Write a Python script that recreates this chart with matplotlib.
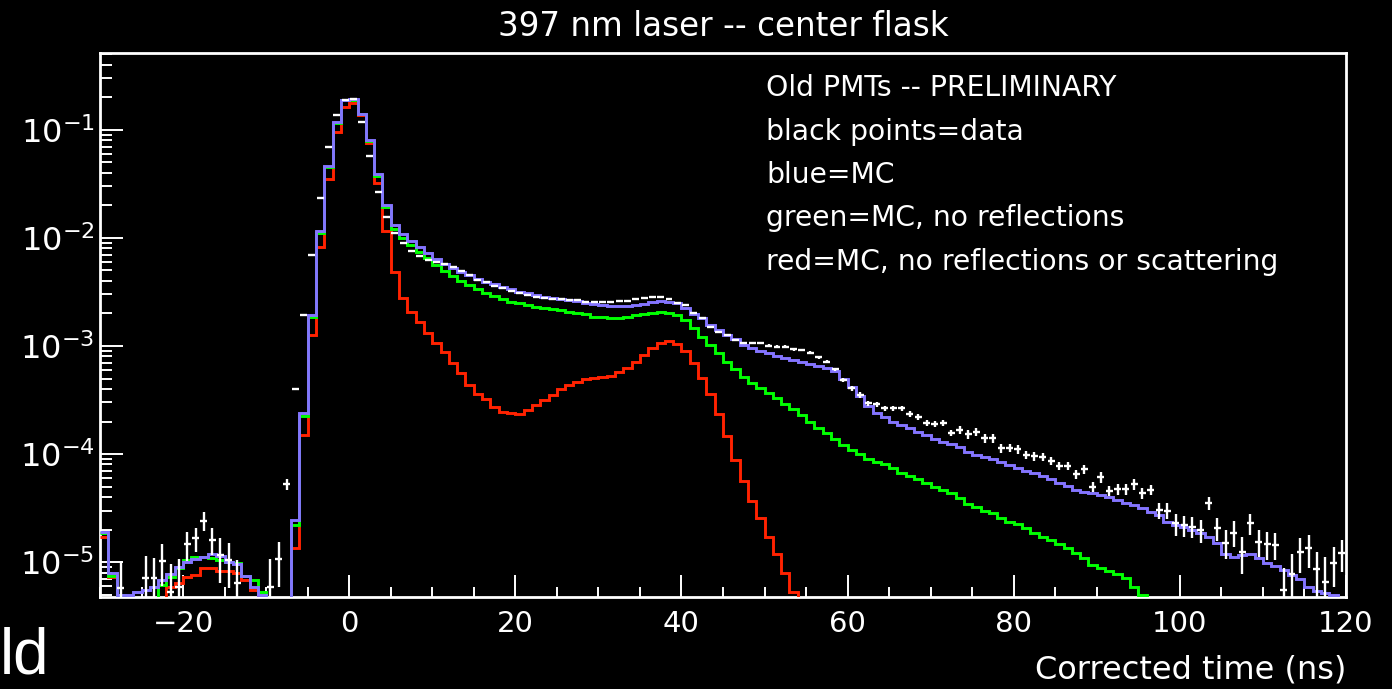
import numpy as np
import matplotlib as mpl
import matplotlib.pyplot as plt
from matplotlib.ticker import MultipleLocator, FixedLocator, FixedFormatter, LogLocator, NullFormatter

mpl.rcParams['font.family'] = 'DejaVu Sans'
mpl.rcParams['mathtext.fontset'] = 'dejavusans'

# 1 ns bins, -30 ns .. 120 ns (150 bins)
bin_edges = np.arange(-30, 121, 1)

# blue = full MC
mc_full = [
    1.91e-5, 7.96e-6, 4.94e-6, 4.94e-6, 5.31e-6, 5.51e-6, 5.83e-6, 6.81e-6, 7.74e-6, 9.04e-6,
    1.01e-5, 1.06e-5, 1.11e-5, 1.18e-5, 1.14e-5, 1.01e-5, 9.57e-6, 7.41e-6, 5.83e-6, 4.94e-6,
    0, 0, 0, 2.45e-5, 2.38e-4, 1.94e-3, 1.17e-2, 4.67e-2, 0.118, 0.190,
    0.192, 0.141, 0.0808, 0.0392, 0.0202, 0.0132, 0.0108, 9.44e-3, 8.20e-3, 7.21e-3,
    6.35e-3, 5.74e-3, 5.31e-3, 4.88e-3, 4.54e-3, 4.15e-3, 3.94e-3, 3.72e-3, 3.50e-3, 3.35e-3,
    3.18e-3, 3.08e-3, 2.97e-3, 2.86e-3, 2.77e-3, 2.70e-3, 2.67e-3, 2.61e-3, 2.52e-3, 2.45e-3,
    2.40e-3, 2.35e-3, 2.35e-3, 2.35e-3, 2.40e-3, 2.45e-3, 2.55e-3, 2.61e-3, 2.58e-3, 2.48e-3,
    2.27e-3, 1.98e-3, 1.80e-3, 1.56e-3, 1.41e-3, 1.26e-3, 1.15e-3, 1.02e-3, 9.52e-4, 8.99e-4,
    8.55e-4, 8.07e-4, 7.69e-4, 7.41e-4, 7.06e-4, 6.81e-4, 6.58e-4, 6.30e-4, 5.90e-4, 4.92e-4,
    4.15e-4, 3.44e-4, 2.78e-4, 2.41e-4, 2.19e-4, 1.99e-4, 1.86e-4, 1.73e-4, 1.61e-4, 1.50e-4,
    1.37e-4, 1.30e-4, 1.24e-4, 1.17e-4, 1.05e-4, 9.79e-5, 9.31e-5, 8.93e-5, 8.49e-5, 7.91e-5,
    7.46e-5, 7.00e-5, 6.71e-5, 6.25e-5, 5.83e-5, 5.42e-5, 5.06e-5, 4.65e-5, 4.48e-5, 4.39e-5,
    4.17e-5, 3.97e-5, 3.75e-5, 3.54e-5, 3.37e-5, 3.14e-5, 2.92e-5, 2.72e-5, 2.36e-5, 2.20e-5,
    2.12e-5, 1.98e-5, 1.87e-5, 1.69e-5, 1.49e-5, 1.19e-5, 1.12e-5, 1.16e-5, 1.19e-5, 1.08e-5,
    9.86e-6, 9.18e-6, 8.43e-6, 7.59e-6, 6.92e-6, 5.90e-6, 5.42e-6, 5.13e-6, 4.94e-6, 0,
]

# green = MC, no reflections
mc_norefl = [
    1.85e-5, 7.41e-6, 4.94e-6, 0, 0, 0, 0, 6.12e-6, 7.21e-6, 8.75e-6,
    1.04e-5, 1.12e-5, 1.12e-5, 1.08e-5, 1.04e-5, 1.01e-5, 9.73e-6, 7.41e-6, 6.81e-6, 5.31e-6,
    0, 0, 0, 2.20e-5, 2.25e-4, 1.85e-3, 1.12e-2, 4.54e-2, 0.116, 0.188,
    0.191, 0.139, 0.0791, 0.0375, 0.0195, 0.0120, 9.93e-3, 8.61e-3, 7.46e-3, 6.49e-3,
    5.62e-3, 4.98e-3, 4.45e-3, 4.03e-3, 3.67e-3, 3.35e-3, 3.12e-3, 2.90e-3, 2.70e-3, 2.57e-3,
    2.48e-3, 2.40e-3, 2.31e-3, 2.23e-3, 2.19e-3, 2.15e-3, 2.08e-3, 2.01e-3, 1.97e-3, 1.87e-3,
    1.85e-3, 1.80e-3, 1.80e-3, 1.85e-3, 1.92e-3, 1.98e-3, 2.04e-3, 2.08e-3, 2.02e-3, 1.92e-3,
    1.74e-3, 1.46e-3, 1.22e-3, 1.02e-3, 8.55e-4, 7.16e-4, 6.08e-4, 5.20e-4, 4.52e-4, 4.06e-4,
    3.65e-4, 3.28e-4, 2.90e-4, 2.59e-4, 2.30e-4, 1.99e-4, 1.73e-4, 1.56e-4, 1.37e-4, 1.21e-4,
    1.09e-4, 1.00e-4, 8.93e-5, 8.49e-5, 8.03e-5, 7.38e-5, 6.71e-5, 6.25e-5, 5.83e-5, 5.36e-5,
    4.92e-5, 4.65e-5, 4.33e-5, 3.95e-5, 3.42e-5, 3.25e-5, 2.99e-5, 2.82e-5, 2.57e-5, 2.36e-5,
    2.25e-5, 2.05e-5, 1.85e-5, 1.71e-5, 1.60e-5, 1.46e-5, 1.34e-5, 1.22e-5, 1.09e-5, 9.38e-6,
    8.75e-6, 8.26e-6, 7.74e-6, 7.11e-6, 5.87e-6, 4.95e-6, 0, 0, 0, 0,
    0, 0, 0, 0, 0, 0, 0, 0, 0, 0,
    0, 0, 0, 0, 0, 0, 0, 0, 0, 0,
]

# red = MC, no reflections or scattering
mc_direct = [
    1.71e-5, 7.21e-6, 0, 0, 0, 0, 0, 0, 5.90e-6, 6.35e-6,
    7.31e-6, 7.59e-6, 8.75e-6, 8.85e-6, 8.30e-6, 8.30e-6, 7.96e-6, 6.81e-6, 5.51e-6, 4.94e-6,
    0, 0, 0, 1.34e-5, 1.50e-4, 1.26e-3, 8.20e-3, 0.035, 0.0952, 0.164,
    0.179, 0.138, 0.0762, 0.0321, 0.0117, 4.81e-3, 2.77e-3, 2.05e-3, 1.66e-3, 1.31e-3,
    1.06e-3, 8.85e-4, 7.00e-4, 5.66e-4, 4.36e-4, 3.60e-4, 3.21e-4, 2.74e-4, 2.43e-4, 2.38e-4,
    2.34e-4, 2.55e-4, 2.84e-4, 3.16e-4, 3.52e-4, 3.97e-4, 4.36e-4, 4.67e-4, 4.92e-4, 5.08e-4,
    5.20e-4, 5.31e-4, 5.70e-4, 6.30e-4, 7.16e-4, 8.17e-4, 9.52e-4, 1.07e-3, 1.11e-3, 1.05e-3,
    8.93e-4, 7.03e-4, 5.08e-4, 3.57e-4, 2.33e-4, 1.47e-4, 8.79e-5, 5.62e-5, 3.67e-5, 2.57e-5,
    1.71e-5, 1.19e-5, 7.85e-6, 5.31e-6, 0, 0, 0, 0, 0, 0,
    0, 0, 0, 0, 0, 0, 0, 0, 0, 0,
    0, 0, 0, 0, 0, 0, 0, 0, 0, 0,
    0, 0, 0, 0, 0, 0, 0, 0, 0, 0,
    0, 0, 0, 0, 0, 0, 0, 0, 0, 0,
    0, 0, 0, 0, 0, 0, 0, 0, 0, 0,
    0, 0, 0, 0, 0, 0, 0, 0, 0, 0,
]

# black points = data (white on this background)
data = [
    0, 0, 5.74e-6, 0, 0, 7.06e-6, 7.11e-6, 1.03e-5, 5.31e-6, 5.90e-6,
    1.47e-5, 1.66e-5, 2.41e-5, 1.60e-5, 1.16e-5, 1.04e-5, 6.35e-6, 0, 0, 0,
    5.87e-6, 1.06e-5, 5.27e-5, 4.00e-4, 1.94e-3, 6.97e-3, 0.0236, 0.0692, 0.138, 0.190,
    0.194, 0.118, 0.0578, 0.0268, 0.0156, 0.0111, 8.93e-3, 7.62e-3, 6.81e-3, 6.25e-3,
    6.00e-3, 5.74e-3, 5.33e-3, 4.95e-3, 4.54e-3, 4.08e-3, 3.92e-3, 3.60e-3, 3.42e-3, 3.25e-3,
    3.08e-3, 2.97e-3, 2.86e-3, 2.77e-3, 2.72e-3, 2.70e-3, 2.67e-3, 2.64e-3, 2.57e-3, 2.57e-3,
    2.54e-3, 2.57e-3, 2.62e-3, 2.62e-3, 2.70e-3, 2.77e-3, 2.82e-3, 2.82e-3, 2.70e-3, 2.52e-3,
    2.40e-3, 2.03e-3, 1.80e-3, 1.51e-3, 1.36e-3, 1.26e-3, 1.14e-3, 1.07e-3, 1.07e-3, 1.07e-3,
    1.01e-3, 9.86e-4, 9.86e-4, 9.31e-4, 9.18e-4, 8.67e-4, 7.85e-4, 7.16e-4, 6.08e-4, 4.84e-4,
    4.06e-4, 3.52e-4, 2.94e-4, 2.88e-4, 2.65e-4, 2.65e-4, 2.65e-4, 2.34e-4, 2.21e-4, 1.95e-4,
    1.90e-4, 1.95e-4, 1.57e-4, 1.67e-4, 1.52e-4, 1.61e-4, 1.40e-4, 1.40e-4, 1.13e-4, 1.14e-4,
    1.11e-4, 9.79e-5, 9.57e-5, 9.44e-5, 8.61e-5, 7.74e-5, 7.74e-5, 6.49e-5, 7.21e-5, 4.98e-5,
    6.08e-5, 4.57e-5, 4.71e-5, 4.71e-5, 5.27e-5, 4.33e-5, 4.65e-5, 3.03e-5, 2.99e-5, 2.28e-5,
    2.20e-5, 2.12e-5, 1.98e-5, 3.49e-5, 2.05e-5, 1.51e-5, 1.87e-5, 1.24e-5, 2.28e-5, 1.54e-5,
    1.47e-5, 1.44e-5, 5.51e-6, 7.74e-6, 1.24e-5, 1.34e-5, 8.55e-6, 6.58e-6, 9.86e-6, 1.21e-5,
]

# relative error on each data point
data_relerr = [
    0, 0, 0.8, 0, 0, 0.6, 0.55, 0.42, 0.8, 0.8,
    0.3, 0.25, 0.2, 0.28, 0.45, 0.45, 0.65, 0, 0, 0,
    0.8, 0.45, 0.11, 0.03, 0.01, 0.01, 0.005, 0.005, 0.005, 0.005,
    0.005, 0.005, 0.005, 0.005, 0.005, 0.005, 0.005, 0.005, 0.005, 0.005,
    0.01, 0.01, 0.01, 0.01, 0.01, 0.01, 0.01, 0.01, 0.01, 0.01,
    0.01, 0.01, 0.01, 0.01, 0.01, 0.01, 0.01, 0.01, 0.01, 0.01,
    0.01, 0.01, 0.01, 0.01, 0.01, 0.01, 0.01, 0.01, 0.01, 0.01,
    0.02, 0.02, 0.02, 0.02, 0.02, 0.02, 0.02, 0.02, 0.02, 0.02,
    0.03, 0.03, 0.03, 0.03, 0.03, 0.03, 0.03, 0.03, 0.03, 0.04,
    0.06, 0.06, 0.06, 0.06, 0.06, 0.06, 0.06, 0.06, 0.06, 0.06,
    0.06, 0.06, 0.06, 0.09, 0.09, 0.09, 0.09, 0.09, 0.09, 0.09,
    0.09, 0.09, 0.09, 0.09, 0.09, 0.09, 0.09, 0.09, 0.09, 0.11,
    0.11, 0.11, 0.11, 0.11, 0.11, 0.11, 0.11, 0.17, 0.17, 0.23,
    0.22, 0.22, 0.24, 0.14, 0.24, 0.3, 0.27, 0.37, 0.22, 0.28,
    0.29, 0.28, 0.6, 0.55, 0.36, 0.34, 0.45, 0.7, 0.4, 0.33,
]

y_major_ticks = [1e-5, 1e-4, 1e-3, 1e-2, 1e-1]
y_tick_labels = [r'$10^{-5}$', r'$10^{-4}$', r'$10^{-3}$', r'$10^{-2}$', r'$10^{-1}$']

notes = ['Old PMTs -- PRELIMINARY',
         'black points=data',
         'blue=MC',
         'green=MC, no reflections',
         'red=MC, no reflections or scattering']

W, H = 1392, 689
fig = plt.figure(figsize=(W / 100, H / 100), dpi=100, facecolor='black')
ax = fig.add_axes([100 / W, (H - 597) / H, 1246 / W, 544 / H])
ax.set_facecolor('black')
ax.set_yscale('log')


def floor0(v):
    v = np.asarray(v, dtype=float)
    return np.where(v > 0, v, 1e-12)


ax.stairs(floor0(mc_direct), bin_edges, color='#ff2200', lw=2.1, baseline=None, zorder=3)
ax.stairs(floor0(mc_norefl), bin_edges, color='#00ff00', lw=2.1, baseline=None, zorder=4)
ax.stairs(floor0(mc_full), bin_edges, color='#8474ff', lw=2.1, baseline=None, zorder=5)

centers = bin_edges[:-1] + 0.5
d = np.asarray(data)
r = np.asarray(data_relerr)
ok = d > 0
err_up = r[ok] * d[ok]
err_lo = np.minimum(r[ok] * d[ok], d[ok] * 0.999)
ax.errorbar(centers[ok], d[ok], xerr=0.42, yerr=[err_lo, err_up], fmt='none',
            ecolor='white', elinewidth=1.7, capsize=0, zorder=6)

ax.set_xlim(-30, 120)
ax.set_ylim(4.75e-6, 0.515)

ax.xaxis.set_major_locator(MultipleLocator(20))
ax.xaxis.set_minor_locator(MultipleLocator(5))
ax.yaxis.set_major_locator(FixedLocator(y_major_ticks))
ax.yaxis.set_major_formatter(FixedFormatter(y_tick_labels))
ax.yaxis.set_minor_locator(LogLocator(base=10, subs=np.arange(2, 10)))
ax.yaxis.set_minor_formatter(NullFormatter())

ax.tick_params(axis='x', which='major', direction='in', length=16, width=1.4,
               colors='white', labelsize=21, pad=9, top=False)
ax.tick_params(axis='x', which='minor', direction='in', length=7.5, width=1.4,
               colors='white', top=False)
ax.tick_params(axis='y', which='major', direction='in', length=16.5, width=1.4,
               colors='white', labelsize=23, pad=4, right=False)
ax.tick_params(axis='y', which='minor', direction='in', length=8.5, width=1.4,
               colors='white', right=False)

for s in ax.spines.values():
    s.set_color('white')
    s.set_linewidth(2)

fig.text(723 / W, 1 - 27 / H, '397 nm laser -- center flask', color='white',
         fontsize=23.5, ha='center', va='center')

for i, line in enumerate(notes):
    fig.text(766 / W, 1 - (88 + 43.5 * i) / H, line, color='white',
             fontsize=20.3, ha='left', va='center')

fig.text(1346 / W, 1 - 670 / H, 'Corrected time (ns)', color='white',
         fontsize=23, ha='right', va='center')

fig.text(0.0, 1 - 657 / H, 'ld', color='white', fontsize=46,
         family='Liberation Sans', ha='left', va='center')

plt.savefig('out.png', dpi=100, facecolor='black')
